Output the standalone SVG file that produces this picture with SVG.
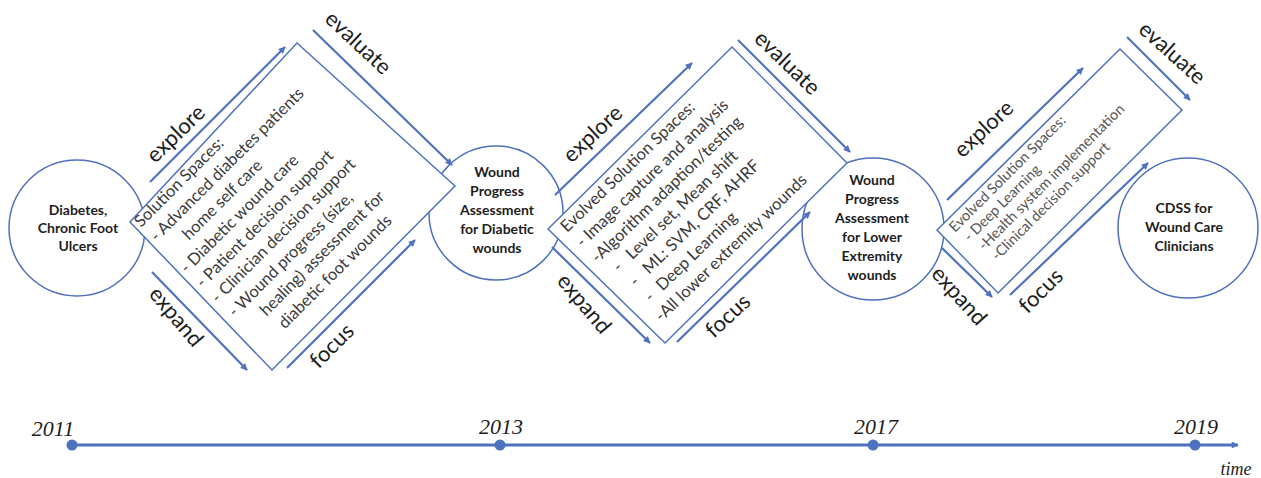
<svg xmlns="http://www.w3.org/2000/svg" width="1261" height="478" viewBox="0 0 1261 478">
<defs>
<marker id="ah" viewBox="0 0 10 10" refX="9" refY="5" markerWidth="9" markerHeight="7" markerUnits="userSpaceOnUse" orient="auto">
<path d="M0,0 L10,5 L0,10 z" fill="#4f72be"/>
</marker>
<style>
.shape{fill:#fff;stroke:#4f72be;stroke-width:1.5}
.arr{stroke:#4f72be;stroke-width:2.2;fill:none;marker-end:url(#ah)}
.lbl{font-family:Lato,"Liberation Sans",sans-serif;font-size:22px;fill:#1e1e1e;text-anchor:middle;dominant-baseline:central}
.ct{font-family:Lato,"Liberation Sans",sans-serif;font-weight:bold;font-size:14px;fill:#1e1e1e;text-anchor:middle}
.bt{font-family:Lato,"Liberation Sans",sans-serif;font-size:16.5px;fill:#3a3a3a}
.bt3{font-family:Lato,"Liberation Sans",sans-serif;font-size:14.5px;fill:#555}
.yr{font-family:"Liberation Serif",serif;font-style:italic;font-size:22px;fill:#1e1e1e;text-anchor:middle}
</style>
</defs>
<rect width="1261" height="478" fill="#fff"/>

<g id="n1"><circle class="shape" cx="77" cy="228" r="68"/>
<text class="ct" x="78" y="215">Diabetes,</text>
<text class="ct" x="78" y="233">Chronic  Foot</text>
<text class="ct" x="78" y="251">Ulcers</text></g>

<g id="n2"><circle class="shape" cx="496" cy="213" r="67"/>
<text class="ct" x="497" y="177">Wound</text>
<text class="ct" x="497" y="196">Progress</text>
<text class="ct" x="497" y="215">Assessment</text>
<text class="ct" x="497" y="234">for Diabetic</text>
<text class="ct" x="497" y="253">wounds</text></g>

<g id="n3"><circle class="shape" cx="873" cy="229" r="71"/>
<text class="ct" x="872" y="185">Wound</text>
<text class="ct" x="872" y="204">Progress</text>
<text class="ct" x="872" y="223">Assessment</text>
<text class="ct" x="872" y="242">for Lower</text>
<text class="ct" x="872" y="261">Extremity</text>
<text class="ct" x="872" y="280">wounds</text></g>

<g id="n4"><circle class="shape" cx="1188" cy="228" r="70"/>
<text class="ct" x="1184" y="213">CDSS for</text>
<text class="ct" x="1184" y="232">Wound Care</text>
<text class="ct" x="1184" y="251">Clinicians</text></g>

<g id="s1"><polygon class="shape" points="130,222 297,43 455,186 272,370"/>
<g transform="translate(141,228) rotate(-45)">
<text class="bt" x="0" y="0">Solution Spaces:</text>
<text class="bt" x="1" y="21.5">- Advanced diabetes patients</text>
<text class="bt" x="25" y="43">home self care</text>
<text class="bt" x="0" y="65">- Diabetic wound care</text>
<text class="bt" x="1" y="86.5">- Patient decision support</text>
<text class="bt" x="1" y="108">- Clinician decision support</text>
<text class="bt" x="3" y="130">- Wound progress (size,</text>
<text class="bt" x="26" y="151.5">healing) assessment for</text>
<text class="bt" x="30" y="173.5">diabetic foot wounds</text>
</g></g>

<g id="s2"><polygon class="shape" points="548,229 732,47 847,163 665,343"/>
<g transform="translate(567,233) rotate(-44)">
<text class="bt" x="0" y="0">Evolved Solution Spaces:</text>
<text class="bt" x="1" y="21.7">- Image capture and analysis</text>
<text class="bt" x="1" y="43.4">-Algorithm adaption/testing</text>
<text class="bt" x="10" y="65">-</text><text class="bt" x="28" y="65">Level set, Mean shift</text>
<text class="bt" x="12" y="87">-</text><text class="bt" x="30" y="87">ML: SVM, CRF, AHRF</text>
<text class="bt" x="12" y="108.5">-</text><text class="bt" x="28" y="108.5">Deep Learning</text>
<text class="bt" x="6" y="130">-All lower extremity wounds</text>
</g></g>

<g id="s3"><polygon class="shape" points="937,230 1120,49 1182,110 998,293"/>
<g transform="translate(955,233) rotate(-45)">
<text class="bt3" x="0" y="0">Evolved Solution Spaces:</text>
<text class="bt3" x="4" y="17">- Deep Learning</text>
<text class="bt3" x="8" y="33.5">-Health system implementation</text>
<text class="bt3" x="10" y="50">-Clinical decision  support</text>
</g></g>

<g id="connectors">
<line class="arr" x1="150" y1="182" x2="285" y2="47"/>
<line class="arr" x1="313" y1="30" x2="452" y2="165"/>
<line class="arr" x1="152" y1="272" x2="247" y2="370"/>
<line class="arr" x1="287" y1="368" x2="415" y2="240"/>
<line class="arr" x1="555" y1="195" x2="692" y2="63"/>
<line class="arr" x1="738" y1="40" x2="850" y2="152"/>
<line class="arr" x1="552" y1="247" x2="650" y2="343"/>
<line class="arr" x1="677" y1="342" x2="810" y2="212"/>
<line class="arr" x1="947" y1="200" x2="1083" y2="68"/>
<line class="arr" x1="1127" y1="37" x2="1190" y2="100"/>
<line class="arr" x1="942" y1="248" x2="992" y2="297"/>
<line class="arr" x1="1010" y1="295" x2="1148" y2="163"/>
</g>

<g id="labels">
<text class="lbl" transform="translate(175,133) rotate(-44)">explore</text>
<text class="lbl" transform="translate(359,42) rotate(43)">evaluate</text>
<text class="lbl" transform="translate(177,316) rotate(50)">expand</text>
<text class="lbl" transform="translate(331,345) rotate(-45)">focus</text>
<text class="lbl" transform="translate(592,133) rotate(-43)">explore</text>
<text class="lbl" transform="translate(788,62) rotate(44)">evaluate</text>
<text class="lbl" transform="translate(585,303) rotate(50)">expand</text>
<text class="lbl" transform="translate(727,315) rotate(-43)">focus</text>
<text class="lbl" transform="translate(983,128) rotate(-43)">explore</text>
<text class="lbl" transform="translate(1173,52) rotate(42)">evaluate</text>
<text class="lbl" transform="translate(960,295) rotate(48)">expand</text>
<text class="lbl" transform="translate(1040,290) rotate(-45)">focus</text>
</g>

<g id="timeline">
<line x1="72" y1="445" x2="1238" y2="445" stroke="#4f72be" stroke-width="3" marker-end="url(#ah)"/>
<circle cx="72" cy="445" r="5.5" fill="#4f72be"/>
<circle cx="500" cy="445" r="5.5" fill="#4f72be"/>
<circle cx="873" cy="445" r="5.5" fill="#4f72be"/>
<circle cx="1195" cy="445" r="5.5" fill="#4f72be"/>
<text class="yr" x="53" y="436">2011</text>
<text class="yr" x="501" y="434">2013</text>
<text class="yr" x="876" y="434">2017</text>
<text class="yr" x="1196" y="434">2019</text>
<text class="yr" x="1236" y="475" style="font-size:18px">time</text>
</g>
</svg>
